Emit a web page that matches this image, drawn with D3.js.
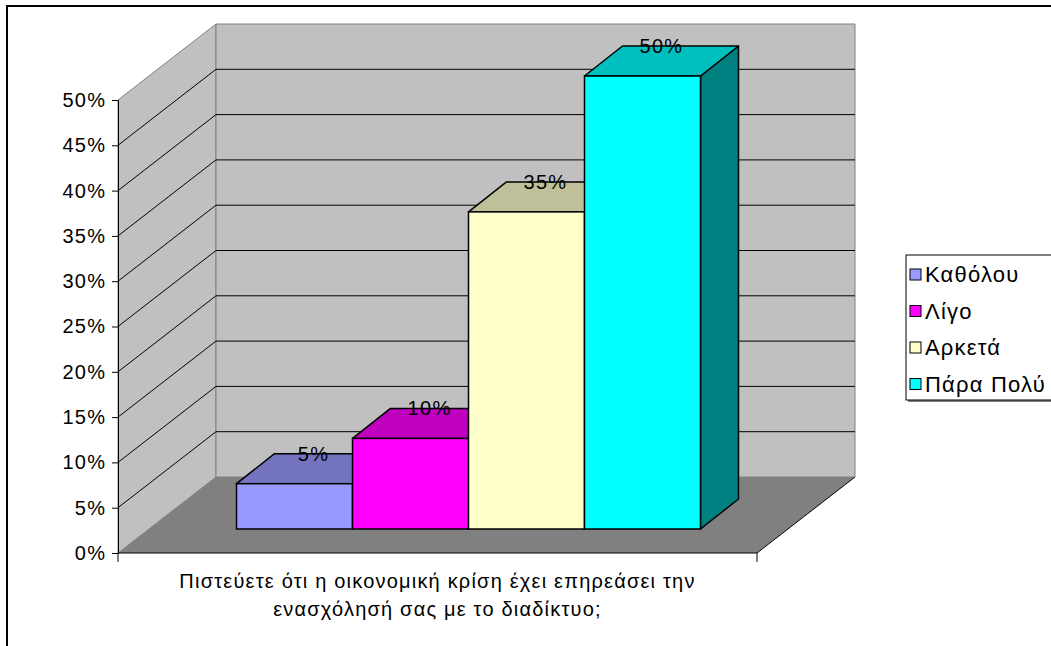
<!DOCTYPE html>
<html>
<head>
<meta charset="utf-8">
<script src="https://cdn.jsdelivr.net/npm/d3@7"></script>
<style>
  body { margin: 0; background: #fff; }
  text { font-family: Arial, "Liberation Sans", sans-serif; fill: #000; }
</style>
</head>
<body>
<div id="chart"></div>
<script>
// data
var category = "Πιστεύετε ότι η οικονομική κρίση έχει επηρεάσει την ενασχόλησή σας με το διαδίκτυο;";
var categoryLines = ["Πιστεύετε ότι η οικονομική κρίση έχει επηρεάσει την", "ενασχόλησή σας με το διαδίκτυο;"];
var series = ["Καθόλου", "Λίγο", "Αρκετά", "Πάρα Πολύ"];
var values = [0.05, 0.10, 0.35, 0.50];
var colors = ["#9999FF", "#FF00FF", "#FFFFCC", "#00FFFF"];
var yTicks = [0, 0.05, 0.10, 0.15, 0.20, 0.25, 0.30, 0.35, 0.40, 0.45, 0.50];

var W = 1051, H = 646;

// front plane of the 3d box and depth offsets
var x0 = 118, x1 = 757;
var depth = {dx: 98, dy: -76};       // full depth of the box
var barFront = {dx: 31, dy: -24};    // where bars start in depth
var barDepth = {dx: 38, dy: -30};    // how deep bars are

var y = d3.scaleLinear().domain([0, 0.5]).range([553, 100]);
var xCat = d3.scaleBand().domain([category]).range([x0, x1]).paddingOuter(0.1886).paddingInner(0);
var xSer = d3.scaleBand().domain(series).range([0, xCat.bandwidth()]);

var svg = d3.select("#chart").append("svg")
    .attr("width", W)
    .attr("height", H);

// outer chart frame (runs off the right and bottom edge)
svg.append("rect")
    .attr("x", 7).attr("y", 6)
    .attr("width", 1100).attr("height", 700)
    .style("fill", "#fff")
    .style("stroke", "#000")
    .style("stroke-width", 2);

function pts(a) { return a.map(function(p) { return p.join(","); }).join(" "); }

var yTop = y(0.5), yBot = y(0);

// left side wall
svg.append("polygon")
    .attr("points", pts([[x0, yBot], [x0, yTop], [x0 + depth.dx, yTop + depth.dy], [x0 + depth.dx, yBot + depth.dy]]))
    .style("fill", "#C0C0C0")
    .style("stroke", "#808080");

// back wall
svg.append("polygon")
    .attr("points", pts([[x0 + depth.dx, yTop + depth.dy], [x1 + depth.dx, yTop + depth.dy], [x1 + depth.dx, yBot + depth.dy], [x0 + depth.dx, yBot + depth.dy]]))
    .style("fill", "#C0C0C0")
    .style("stroke", "#808080");

// floor
svg.append("polygon")
    .attr("points", pts([[x0, yBot], [x1, yBot], [x1 + depth.dx, yBot + depth.dy], [x0 + depth.dx, yBot + depth.dy]]))
    .style("fill", "#808080")
    .style("stroke", "none");
svg.append("line")
    .attr("x1", x1).attr("y1", yBot)
    .attr("x2", x1 + depth.dx).attr("y2", yBot + depth.dy)
    .style("stroke", "#000");

// gridlines on side and back walls
var grid = yTicks.filter(function(v) { return v > 0 && v < 0.5; });
svg.selectAll(".gridSide")
    .data(grid)
    .enter().append("line")
    .attr("x1", x0).attr("y1", function(d) { return y(d); })
    .attr("x2", x0 + depth.dx).attr("y2", function(d) { return y(d) + depth.dy; })
    .style("stroke", "#000");
svg.selectAll(".gridBack")
    .data(grid)
    .enter().append("line")
    .attr("x1", x0 + depth.dx).attr("y1", function(d) { return y(d) + depth.dy; })
    .attr("x2", x1 + depth.dx).attr("y2", function(d) { return y(d) + depth.dy; })
    .style("stroke", "#000");

// bars
var darken = function(c, k) {
    var r = d3.rgb(c);
    return d3.rgb(r.r * k, r.g * k, r.b * k).formatHex();
};

var bars = svg.selectAll(".bar")
    .data(series)
    .enter().append("g")
    .attr("class", "bar");

bars.each(function(s, i) {
    var g = d3.select(this);
    var bx = xCat(category) + xSer(s) + barFront.dx;
    var bw = xSer.bandwidth();
    var by0 = y(0) + barFront.dy;
    var by1 = y(values[i]) + barFront.dy;
    // side
    g.append("polygon")
        .attr("points", pts([[bx + bw, by0], [bx + bw, by1], [bx + bw + barDepth.dx, by1 + barDepth.dy], [bx + bw + barDepth.dx, by0 + barDepth.dy]]))
        .style("fill", darken(colors[i], 0.5))
        .style("stroke", "#000").style("stroke-width", 1.5).style("stroke-linejoin", "round");
    // top
    g.append("polygon")
        .attr("points", pts([[bx, by1], [bx + bw, by1], [bx + bw + barDepth.dx, by1 + barDepth.dy], [bx + barDepth.dx, by1 + barDepth.dy]]))
        .style("fill", darken(colors[i], 0.75))
        .style("stroke", "#000").style("stroke-width", 1.5).style("stroke-linejoin", "round");
    // front
    g.append("rect")
        .attr("x", bx).attr("y", by1)
        .attr("width", bw).attr("height", by0 - by1)
        .style("fill", colors[i])
        .style("stroke", "#000").style("stroke-width", 1.5);
});

// data labels
svg.selectAll(".dlabel")
    .data(series)
    .enter().append("text")
    .attr("x", function(s) { return xCat(category) + xSer(s) + barFront.dx + xSer.bandwidth() / 2 + barDepth.dx / 2; })
    .attr("y", function(s, i) { return y(values[i]) + barFront.dy + barDepth.dy / 2 - 8; })
    .attr("text-anchor", "middle")
    .style("font-size", "20px")
    .style("letter-spacing", "1.3px")
    .text(function(s, i) { return d3.format(".0%")(values[i]); });

// y axis
var yAxis = svg.append("g")
    .attr("transform", "translate(" + x0 + ",0)")
    .call(d3.axisLeft(y)
        .tickValues(yTicks)
        .tickFormat(d3.format(".0%"))
        .tickSize(6)
        .tickSizeOuter(0)
        .tickPadding(7));
yAxis.selectAll("text")
    .style("font-size", "20px")
    .style("letter-spacing", "1.3px")
    .attr("dx", "1.3px")
    .attr("font-family", null);
yAxis.selectAll("line, path").style("stroke", "#000");

// category axis
svg.append("line")
    .attr("x1", x0).attr("y1", yBot).attr("x2", x1).attr("y2", yBot)
    .style("stroke", "#000");
svg.selectAll(".ctick")
    .data(xCat.range())
    .enter().append("line")
    .attr("x1", function(d) { return d; }).attr("x2", function(d) { return d; })
    .attr("y1", yBot).attr("y2", yBot + 9)
    .style("stroke", "#000");

var cl = svg.append("text")
    .attr("text-anchor", "middle")
    .style("font-size", "20px")
    .style("letter-spacing", "1.2px");
cl.selectAll("tspan")
    .data(categoryLines)
    .enter().append("tspan")
    .attr("x", (x0 + x1) / 2)
    .attr("y", function(d, i) { return 588 + i * 28; })
    .text(function(d) { return d; });

// legend
var lg = svg.append("g");
lg.append("rect")
    .attr("x", 908).attr("y", 257).attr("width", 200).attr("height", 145)
    .style("fill", "#808080");
lg.append("rect")
    .attr("x", 906).attr("y", 255).attr("width", 200).attr("height", 145)
    .style("fill", "#fff").style("stroke", "#000");
var li = lg.selectAll(".li")
    .data(series)
    .enter().append("g")
    .attr("transform", function(d, i) { return "translate(910," + (274.5 + i * 36.5) + ")"; });
li.append("rect")
    .attr("x", 0).attr("y", -5.5).attr("width", 11).attr("height", 11)
    .style("fill", function(d, i) { return colors[i]; })
    .style("stroke", "#000");
li.append("text")
    .attr("x", 15).attr("y", 7.5)
    .style("font-size", "22px")
    .style("letter-spacing", "1.2px")
    .text(function(d) { return d; });
</script>
</body>
</html>
